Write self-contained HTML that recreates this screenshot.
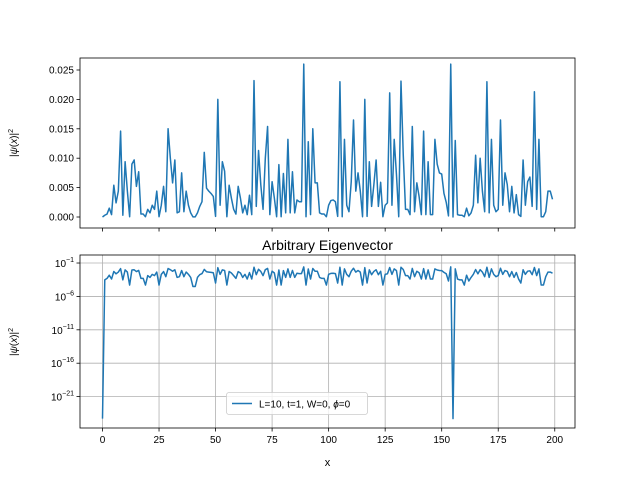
<!DOCTYPE html>
<html><head><meta charset="utf-8"><style>
html,body{margin:0;padding:0;background:#fff;}
svg{display:block;font-family:"Liberation Sans","DejaVu Sans",sans-serif;}
</style></head><body>
<svg id="chart" width="640" height="480" viewBox="0 0 640 480" xmlns="http://www.w3.org/2000/svg"></svg>
<script>
// |psi(x)|^2 values in units of 1e-3, index = x (0..199)
const xValues = Array.from({length:200}, (_, i) => i);
const psiSqMilli = [
 5e-22,0.3,0.5,1.5,0.4,5.4,2.4,4.4,14.6,0.3,
 9.4,4.4,0.05,9.0,9.7,5.2,7.7,0.5,0.5,0.05,
 1.3,0.7,2.0,1.3,4.4,0.05,2.0,5.2,0.9,15.0,
 10.0,5.8,9.7,0.7,0.9,7.5,0.9,4.4,2.0,0.7,
 0.03,0.03,0.7,1.8,2.6,11.0,4.9,4.4,4.0,3.5,
 0.1,20.0,2.0,9.4,7.8,0.05,5.4,3.2,1.3,0.5,
 5.2,3.2,0.7,2.0,0.4,3.7,0.4,23.2,1.8,11.3,
 5.5,1.3,10.0,15.4,0.4,6.0,3.2,0.05,8.9,0.05,
 7.4,0.7,13.2,0.7,7.7,0.7,2.9,2.6,2.6,26.0,
 0.05,12.8,0.4,15.0,5.8,5.8,0.7,0.5,0.5,0.05,
 2.0,2.8,2.9,2.6,0.1,23.0,0.05,13.2,2.0,0.9,
 6.0,16.5,4.4,7.5,4.4,0.05,20.0,0.1,9.4,1.8,
 5.5,9.7,1.8,5.9,0.05,2.0,2.4,21.1,2.0,13.2,
 7.2,0.05,23.1,10.6,1.3,1.3,0.4,15.4,0.9,5.8,
 3.5,0.4,14.6,0.4,9.4,0.4,0.4,13.2,9.0,7.5,
 7.3,4.0,2.5,0.2,26.0,5e-22,13.0,0.4,0.3,0.3,
 0.05,1.5,0.2,0.7,2.0,10.5,2.4,10.0,4.4,0.9,
 23.0,0.7,13.2,2.0,0.9,1.3,16.5,2.0,7.5,5.5,
 0.9,5.2,0.7,3.8,0.4,0.1,9.7,2.0,6.0,6.8,
 1.8,21.3,1.3,13.2,0.05,0.05,0.9,4.4,4.4,3.0
];
const topYTicks = [0,0.005,0.010,0.015,0.020,0.025];
const topYTickLabels = ["0.000","0.005","0.010","0.015","0.020","0.025"];
const xTicks = [0,25,50,75,100,125,150,175,200];
const logYTicks = [-1,-6,-11,-16,-21];

const NS = "http://www.w3.org/2000/svg";
const svg = document.getElementById('chart');
function mk(tag, attrs, parent){
  const e = document.createElementNS(NS, tag);
  for (const k in attrs) e.setAttribute(k, attrs[k]);
  (parent||svg).appendChild(e);
  return e;
}
const L=80, R=575;
const xMin=-9.95, xMax=208.95;
const xs = v => L + (v - xMin)/(xMax - xMin)*(R - L);
const T1=58, B1=228, y1Min=-0.00187, y1Max=0.02704;
const y1 = v => B1 - (v - y1Min)/(y1Max - y1Min)*(B1 - T1);
const T2=255, B2=428, lMin=-25.7, lMax=0.2;
const y2 = lv => B2 - (lv - lMin)/(lMax - lMin)*(B2 - T2);

const color="#1f77b4";

// ---------- top axes ----------
const gTop = mk('g',{});


let d = xValues.map((x,i)=>(i?'L':'M')+xs(x).toFixed(2)+','+y1(psiSqMilli[i]/1000).toFixed(2)).join('');
const topLine = mk('path',{d:d,fill:'none',stroke:color,'stroke-width':1.5,'stroke-linejoin':'round'},gTop);


topYTicks.forEach((t,i)=>{
  const y=y1(t);
  mk('line',{x1:L-3.5,x2:L,y1:y,y2:y,stroke:'#000','stroke-width':0.8},gTop);
  const tx=mk('text',{x:L-6,y:y+3.5,'font-size':10,'text-anchor':'end'},gTop);
  tx.textContent=topYTickLabels[i];
  
  
});
xTicks.forEach(t=>{
  const x=xs(t);
  mk('line',{x1:x,x2:x,y1:B1,y2:B1+3.5,stroke:'#000','stroke-width':0.8},gTop);
});
const f1=mk('rect',{x:L,y:T1,width:R-L,height:B1-T1,fill:'none',stroke:'#000','stroke-width':0.8},gTop);


const yl1=mk('text',{x:0,y:0,'font-size':10,'text-anchor':'middle',transform:'translate(17,143) rotate(-90)'},gTop);
yl1.innerHTML='|<tspan font-style="italic">ψ</tspan>(<tspan font-style="italic">x</tspan>)|<tspan font-size="7" dy="-4">2</tspan>';



// ---------- bottom axes ----------
const gBot = mk('g',{});


xTicks.forEach(t=>{
  const x=xs(t);
  mk('line',{x1:x,x2:x,y1:T2,y2:B2,stroke:'#b0b0b0','stroke-width':0.8},gBot);
  mk('line',{x1:x,x2:x,y1:B2,y2:B2+3.5,stroke:'#000','stroke-width':0.8},gBot);
  const tx=mk('text',{x:x,y:B2+15,'font-size':10,'text-anchor':'middle'},gBot);
  tx.textContent=String(t);
  
  
});
logYTicks.forEach(t=>{
  const y=y2(t);
  mk('line',{x1:L,x2:R,y1:y,y2:y,stroke:'#b0b0b0','stroke-width':0.8},gBot);
  mk('line',{x1:L-3.5,x2:L,y1:y,y2:y,stroke:'#000','stroke-width':0.8},gBot);
  const tx=mk('text',{x:L-6,y:y+4,'font-size':10,'text-anchor':'end'},gBot);
  tx.innerHTML='10<tspan font-size="7" dy="-5">'+(t<0?'\u2212':'')+Math.abs(t)+'</tspan>';
  
  
});
d = xValues.map((x,i)=>(i?'L':'M')+xs(x).toFixed(2)+','+y2(Math.log10(psiSqMilli[i]/1000)).toFixed(2)).join('');
const botLine = mk('path',{d:d,fill:'none',stroke:color,'stroke-width':1.5,'stroke-linejoin':'round'},gBot);


const f2=mk('rect',{x:L,y:T2,width:R-L,height:B2-T2,fill:'none',stroke:'#000','stroke-width':0.8},gBot);


const title=mk('text',{x:(L+R)/2,y:250,'font-size':14,'text-anchor':'middle'},gBot);
title.textContent='Arbitrary Eigenvector';


const xl=mk('text',{x:(L+R)/2,y:466,'font-size':11,'text-anchor':'middle'},gBot);
xl.textContent='x';


const yl2=mk('text',{x:0,y:0,'font-size':10,'text-anchor':'middle',transform:'translate(17,342) rotate(-90)'},gBot);
yl2.innerHTML='|<tspan font-style="italic">ψ</tspan>(<tspan font-style="italic">x</tspan>)|<tspan font-size="7" dy="-4">2</tspan>';



// legend
const lg=mk('g',{});


mk('rect',{x:226.5,y:392.5,width:141,height:22,rx:2.5,fill:'#fff','fill-opacity':0.8,stroke:'#ccc','stroke-width':0.8},lg);
mk('line',{x1:232,x2:252,y1:403.5,y2:403.5,stroke:color,'stroke-width':1.5},lg);
const lt=mk('text',{x:259,y:407.5,'font-size':10},lg);
lt.innerHTML='L=10, t=1, W=0, <tspan font-style="italic">ϕ</tspan>=0';


</script>
</body></html>
